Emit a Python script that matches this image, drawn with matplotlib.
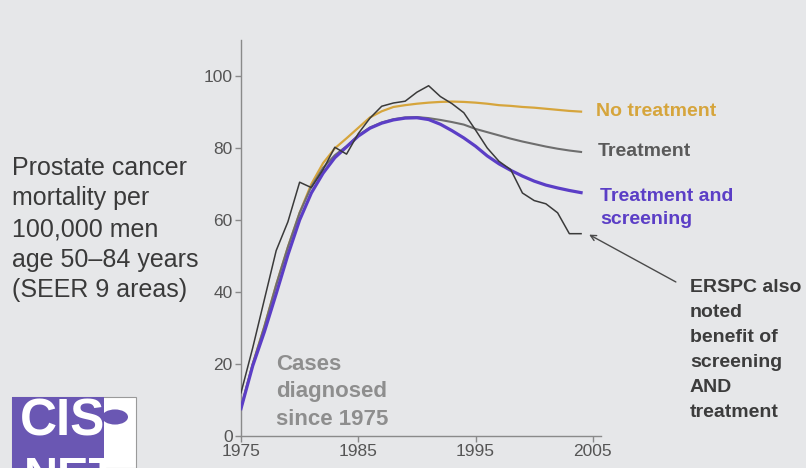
import matplotlib
matplotlib.use('Agg')
import matplotlib.pyplot as plt
from matplotlib.patches import Rectangle, Circle

# SEER 9 prostate cancer mortality per 100,000 men age 50-84
years = list(range(1975, 2005))
observed = [12, 24.5, 38, 51.5, 59.5, 70.5, 69, 74, 80.2, 78.3,
            84, 88.3, 91.6, 92.5, 93, 95.5, 97.3, 94.3, 92.3, 89.8,
            85, 80, 76.3, 74, 67.5, 65.4, 64.5, 62, 56.2, 56.2]
no_treatment = [7.8, 20, 30.5, 42, 52.5, 62, 70, 75.8, 79.9, 82.7,
                85.6, 88.5, 90.2, 91.4, 91.9, 92.3, 92.6, 92.8, 92.9, 92.8,
                92.6, 92.3, 91.9, 91.7, 91.4, 91.2, 90.9, 90.6, 90.3, 90.1]
treatment = [7.8, 20, 30.5, 42, 52.5, 62, 69.3, 74.5, 78, 80.5,
             83.5, 85.7, 87.1, 88, 88.5, 88.6, 88.3, 87.8, 87.2, 86.5,
             85.3, 84.4, 83.5, 82.6, 81.8, 81.1, 80.4, 79.8, 79.3, 78.9]
treat_screen = [7.6, 19.5, 29, 39.5, 50.3, 60, 67.5, 73, 77.3, 80.3,
                83.3, 85.5, 86.9, 87.8, 88.3, 88.4, 87.9, 86.6, 84.8, 82.8,
                80.5, 77.8, 75.6, 73.8, 72.2, 70.8, 69.7, 68.9, 68.2, 67.6]

yticks = [0, 20, 40, 60, 80, 100]
xticks = [1975, 1985, 1995, 2005]

W, H = 806, 468
bg = '#e6e7e9'
gold = '#d6a53c'
grey = '#6e6e6e'
purple = '#5b3ec6'

plt.rcParams['font.family'] = ['Liberation Sans', 'DejaVu Sans']

fig = plt.figure(figsize=(W / 100, H / 100), dpi=100)
fig.patch.set_facecolor(bg)


def ftext(x, y, s, **kw):
    """Place text at pixel coords measured from the top left."""
    return fig.text(x / W, 1 - y / H, s, **kw)


ax = fig.add_axes([241 / W, 1 - 436 / H, 360 / W, 396 / H])
ax.set_facecolor(bg)

ax.plot(years, no_treatment, color=gold, lw=1.6, zorder=2)
ax.plot(years, treatment, color=grey, lw=1.5, zorder=3)
ax.plot(years, treat_screen, color=purple, lw=2.3, zorder=4)
ax.plot(years, observed, color='#3a3a3a', lw=1.1, zorder=5)

ax.set_xlim(1975, 2005.7)
ax.set_ylim(0, 110)
ax.set_xticks(xticks)
ax.set_yticks(yticks)
for s in ['top', 'right']:
    ax.spines[s].set_visible(False)
for s in ['left', 'bottom']:
    ax.spines[s].set_color('#8a8a8a')
    ax.spines[s].set_linewidth(1)
ax.tick_params(colors='#8a8a8a', labelcolor='#555555', labelsize=12.5,
               length=4, width=1, pad=2)

# left axis title
ftext(12, 229, 'Prostate cancer\nmortality per\n100,000 men\nage 50\u201384 years\n(SEER 9 areas)',
      ha='left', va='center', fontsize=18, color='#3a3a3a', linespacing=1.35)

ftext(276, 392, 'Cases\ndiagnosed\nsince 1975', ha='left', va='center',
      fontsize=16, fontweight='bold', color='#8e8e8e', linespacing=1.39)

# series labels
ftext(596, 111, 'No treatment', ha='left', va='center', fontsize=14,
      fontweight='bold', color=gold)
ftext(598, 152, 'Treatment', ha='left', va='center', fontsize=14,
      fontweight='bold', color='#5a5a5a')
ftext(600, 208, 'Treatment and\nscreening', ha='left', va='center', fontsize=14,
      fontweight='bold', color=purple, linespacing=1.40)
ftext(690, 350, 'ERSPC also\nnoted\nbenefit of\nscreening\nAND\ntreatment',
      ha='left', va='center', fontsize=14, fontweight='bold', color='#3c3c3c',
      linespacing=1.61)

ax.annotate('', xy=(586.7, H - 233.3), xytext=(678.3, H - 283.3),
            xycoords='figure pixels', textcoords='figure pixels',
            annotation_clip=False,
            arrowprops=dict(arrowstyle='->', color='#4a4a4a', lw=1))

# CISNET logo, bottom left (cut by frame)
logo = '#6a57b3'
fig.patches.append(Rectangle((12 / W, 0), 124 / W, (H - 397) / H,
                             transform=fig.transFigure, facecolor='white',
                             edgecolor='#9a9a9a', lw=0.8))
fig.patches.append(Rectangle((12 / W, 0), 92 / W, (H - 397) / H,
                             transform=fig.transFigure, facecolor=logo,
                             edgecolor='none'))
fig.patches.append(Circle((115 / W, 1 - 417 / H), 13 / W,
                          transform=fig.transFigure, facecolor=logo,
                          edgecolor='none'))
ftext(20, 422, 'CIS', ha='left', va='center', fontsize=37,
      fontweight='bold', color='white')
ftext(24, 456, 'NET', ha='left', va='top', fontsize=34,
      fontweight='bold', color='white')

fig.savefig('out.png', dpi=100, facecolor=bg)
